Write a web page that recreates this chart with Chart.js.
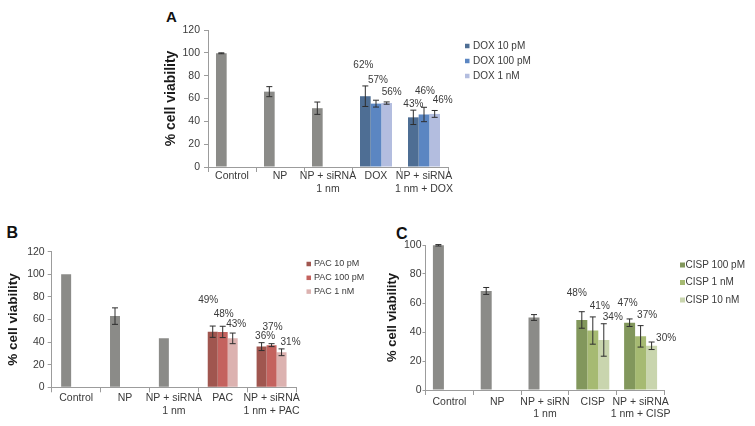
<!DOCTYPE html>
<html>
<head>
<meta charset="utf-8">
<script src="https://cdn.jsdelivr.net/npm/chart.js@4.4.1/dist/chart.umd.min.js"></script>
<style>
  html, body { margin: 0; padding: 0; background: #fff; }
  body { width: 755px; height: 426px; position: relative; overflow: hidden; font-family: 'Liberation Sans', Arial, sans-serif; }
  canvas { position: absolute; }
  .tag { position: absolute; font-weight: bold; line-height: 1; color: #111; }
</style>
</head>
<body>
<div class="tag" style="left:166px;top:8.5px;font-size:15px">A</div>
<div class="tag" style="left:6.5px;top:224.5px;font-size:16px">B</div>
<div class="tag" style="left:396px;top:226px;font-size:16px">C</div>
<canvas id="chartA" width="450" height="210" style="left:150px;top:0"></canvas>
<canvas id="chartB" width="378" height="216" style="left:0;top:210px"></canvas>
<canvas id="chartC" width="377" height="216" style="left:378px;top:210px"></canvas>
<script>
// ---- panel A: DOX ----
const catsA = [['Control'], ['NP'], ['NP + siRNA', '1 nm'], ['DOX'], ['NP + siRNA', '1 nm + DOX']];
const seriesA = ['DOX 10 pM', 'DOX 100 pM', 'DOX 1 nM'];
const valsA1 = [99.6, 66, 51.5, 62, 43.5];
const valsA2 = [null, null, null, 55.5, 46];
const valsA3 = [null, null, null, 56, 46.5];
const errA1 = [0.4, 4.4, 5.4, 9, 6.3];
const errA2 = [null, null, null, 3, 6.3];
const errA3 = [null, null, null, 1, 3];
const pctA1 = [null, null, null, '62%', '43%'];
const pctA2 = [null, null, null, '57%', '46%'];
const pctA3 = [null, null, null, '56%', '46%'];

// ---- panel B: PAC ----
const catsB = [['Control'], ['NP'], ['NP + siRNA', '1 nm'], ['PAC'], ['NP + siRNA', '1 nm + PAC']];
const seriesB = ['PAC 10 pM', 'PAC 100 pM', 'PAC 1 nM'];
const valsB1 = [100, 63, 43.3, 49.2, 36];
const valsB2 = [null, null, null, 49, 37.3];
const valsB3 = [null, null, null, 43.3, 31];
const errB1 = [0, 7.3, 0, 5, 3.5];
const errB2 = [null, null, null, 5, 1.3];
const errB3 = [null, null, null, 4.7, 3];
const pctB1 = [null, null, null, '49%', '36%'];
const pctB2 = [null, null, null, '48%', '37%'];
const pctB3 = [null, null, null, '43%', '31%'];

// ---- panel C: CISP ----
const catsC = [['Control'], ['NP'], ['NP + siRN', '1 nm'], ['CISP'], ['NP + siRNA', '1 nm + CISP']];
const seriesC = ['CISP 100 pM', 'CISP 1 nM', 'CISP 10 nM'];
const valsC1 = [99.8, 68.3, 50, 48.3, 46.4];
const valsC2 = [null, null, null, 41, 37];
const valsC3 = [null, null, null, 34.5, 30.5];
const errC1 = [0.5, 2.4, 2, 5.7, 2.6];
const errC2 = [null, null, null, 9.4, 7.4];
const errC3 = [null, null, null, 11.2, 2.6];
const pctC1 = [null, null, null, '48%', '47%'];
const pctC2 = [null, null, null, '41%', '37%'];
const pctC3 = [null, null, null, '34%', '30%'];

const FONT = "'Liberation Sans', Arial, sans-serif";
const GRAY = '#8b8b88';
const AXIS = '#9c9c9c';
const TXT = '#3a3a3a';
Chart.defaults.font.family = FONT;
Chart.defaults.color = TXT;

// error bars + percent labels, positioned from the bar elements and y scale
const barExtras = {
  id: 'barExtras',
  afterDatasetsDraw(chart) {
    const ctx = chart.ctx;
    const y = chart.scales.y;
    ctx.save();
    chart.data.datasets.forEach((ds, i) => {
      chart.getDatasetMeta(i).data.forEach((bar, j) => {
        const v = ds.data[j];
        if (v == null) return;
        const e = ds.errors[j] || 0;
        const top = y.getPixelForValue(v + e);
        if (e > 0) {
          const bot = y.getPixelForValue(v - e);
          ctx.strokeStyle = '#2e2e2e';
          ctx.lineWidth = 1;
          ctx.beginPath();
          ctx.moveTo(bar.x, top); ctx.lineTo(bar.x, bot);
          ctx.moveTo(bar.x - 3, top); ctx.lineTo(bar.x + 3, top);
          ctx.moveTo(bar.x - 3, bot); ctx.lineTo(bar.x + 3, bot);
          ctx.stroke();
        }
        const lbl = ds.pct[j];
        if (lbl) {
          const sh = ds.shift[j] || [0, -10];
          ctx.fillStyle = TXT;
          ctx.font = '10px ' + FONT;
          ctx.textAlign = 'center';
          ctx.textBaseline = 'middle';
          ctx.fillText(lbl, bar.x + sh[0], top + sh[1]);
        }
      });
    });
    ctx.restore();
  }
};

// small square legend to the right of the plot
const sideLegend = {
  id: 'sideLegend',
  afterDraw(chart, args, o) {
    const ctx = chart.ctx;
    ctx.save();
    ctx.font = o.size + 'px ' + FONT;
    ctx.textAlign = 'left';
    ctx.textBaseline = 'middle';
    chart.data.datasets.forEach((ds, i) => {
      const yy = o.y + i * o.gap;
      ctx.fillStyle = ds.legendColor;
      ctx.fillRect(o.x, yy - o.box / 2, o.box, o.box);
      ctx.fillStyle = TXT;
      ctx.fillText(ds.label, o.textX, yy);
    });
    ctx.restore();
  }
};

function buildPanel(id, d, s) {
  const datasets = d.series.map((name, i) => ({
    label: name,
    data: d.values[i],
    errors: d.errors[i],
    pct: d.pct[i],
    shift: s.shifts[i],
    legendColor: s.colors[i],
    backgroundColor: c => (d.values[1][c.dataIndex] == null ? GRAY : s.colors[i]),
    borderWidth: 0,
    categoryPercentage: s.catPct,
    barPercentage: 1
  }));
  return new Chart(document.getElementById(id), {
    type: 'bar',
    data: { labels: d.cats, datasets },
    plugins: [barExtras, sideLegend],
    options: {
      responsive: false,
      animation: false,
      layout: { padding: s.padding },
      plugins: {
        legend: { display: false },
        tooltip: { enabled: false },
        sideLegend: s.legend
      },
      scales: {
        x: {
          grid: { drawOnChartArea: false, color: AXIS, tickLength: 5, offset: true },
          border: { color: AXIS },
          ticks: { color: TXT, font: { size: 10.5, lineHeight: s.xLine }, padding: s.xPad, maxRotation: 0, autoSkip: false },
          afterFit: sc => { sc.height = s.xH; }
        },
        y: {
          min: 0,
          max: d.yMax,
          ticks: { stepSize: d.yStep, color: TXT, font: { size: 10.5 }, padding: s.yPad },
          grid: { drawOnChartArea: false, color: AXIS, tickLength: s.yTick },
          border: { color: AXIS },
          title: {
            display: true,
            text: '% cell viability',
            color: '#1a1a1a',
            font: { size: s.titleSize, weight: 'bold' },
            padding: { top: s.titlePad, bottom: 0 }
          },
          afterFit: sc => { sc.width = s.yW; }
        }
      }
    }
  });
}

buildPanel('chartA',
  { cats: catsA, series: seriesA, values: [valsA1, valsA2, valsA3], errors: [errA1, errA2, errA3],
    pct: [pctA1, pctA2, pctA3], yMax: 120, yStep: 20 },
  { colors: ['#4e6e94', '#5b86c2', '#b3bddf'], catPct: 0.667,
    shifts: [[null, null, null, [-2, -21], [0, -6]], [null, null, null, [2, -20], [1, -16]], [null, null, null, [5, -10], [8, -10]]],
    padding: { left: 8, right: 152, top: 30, bottom: 8 }, yW: 50, xH: 35, titleSize: 14, titlePad: 5,
    xPad: -2, xLine: 1.2, yPad: 4, yTick: 4,
    legend: { x: 315, textX: 323, y: 46, gap: 15, size: 10, box: 4.5 } });

buildPanel('chartB',
  { cats: catsB, series: seriesB, values: [valsB1, valsB2, valsB3], errors: [errB1, errB2, errB3],
    pct: [pctB1, pctB2, pctB3], yMax: 120, yStep: 20 },
  { colors: ['#a0564f', '#c4625e', '#dcb2b0'], catPct: 0.613,
    shifts: [[null, null, null, [-4.5, -25.5], [3.5, -6]], [null, null, null, [1, -12], [1, -16.5]], [null, null, null, [3.5, -9], [9, -7]]],
    padding: { left: 4, right: 82, top: 41.7, bottom: 4 }, yW: 47.7, xH: 34.7, titleSize: 13.5, titlePad: 1,
    xPad: -0.3, xLine: 1.2, yPad: 3, yTick: 4,
    legend: { x: 306.5, textX: 314, y: 54, gap: 13.8, size: 9, box: 4.5 } });

buildPanel('chartC',
  { cats: catsC, series: seriesC, values: [valsC1, valsC2, valsC3], errors: [errC1, errC2, errC3],
    pct: [pctC1, pctC2, pctC3], yMax: 100, yStep: 10 },
  { colors: ['#82975c', '#a6ba72', '#c9d5ae'], catPct: 0.69,
    shifts: [[null, null, null, [-5, -18], [-2, -15.5]], [null, null, null, [7, -11], [6.5, -10]], [null, null, null, [9, -6], [14.5, -4]]],
    padding: { left: 4, right: 90.5, top: 35, bottom: 4 }, yW: 43.5, xH: 32, titleSize: 13, titlePad: 3,
    xPad: 1.5, xLine: 1.11, yPad: 1, yTick: 3,
    legend: { x: 302, textX: 307.5, y: 55, gap: 17.5, size: 10, box: 5 } });
</script>
</body>
</html>
